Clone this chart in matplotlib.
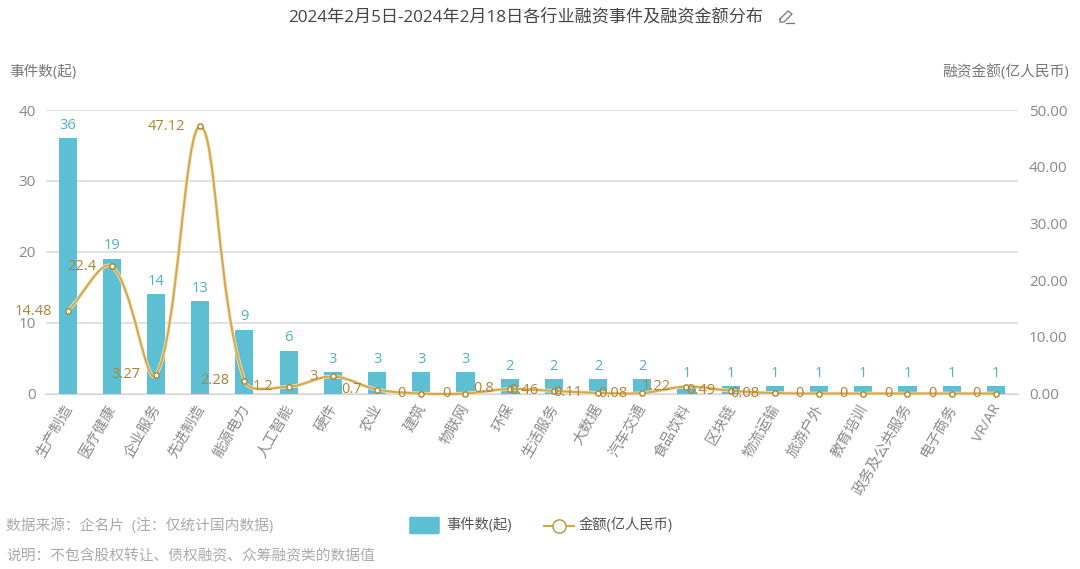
import matplotlib
matplotlib.use('Agg')
import matplotlib.pyplot as plt
from matplotlib.lines import Line2D
from matplotlib.patches import FancyBboxPatch, PathPatch
from matplotlib.path import Path
from matplotlib.transforms import ScaledTranslation

plt.rcParams['font.family'] = ['Open Sans', 'Noto Sans CJK SC', 'DejaVu Sans']

W, H = 1080, 569

industries = ['生产制造', '医疗健康', '企业服务', '先进制造', '能源电力', '人工智能', '硬件', '农业',
              '建筑', '物联网', '环保', '生活服务', '大数据', '汽车交通', '食品饮料', '区块链',
              '物流运输', '旅游户外', '教育培训', '政务及公共服务', '电子商务', 'VR/AR']
events = [36, 19, 14, 13, 9, 6, 3, 3, 3, 3, 2, 2, 2, 2, 1, 1, 1, 1, 1, 1, 1, 1]
amounts = [14.48, 22.4, 3.27, 47.12, 2.28, 1.2, 3, 0.7, 0, 0, 0.8, 0.46, 0.11, 0.08, 1.22,
           0.49, 0.08, 0, 0, 0, 0, 0]
left_ticks = [0, 10, 20, 30, 40]
right_ticks = [0, 10, 20, 30, 40, 50]

BAR = '#5cbfd3'
LINE = '#d6a84e'
LABEL_GOLD = '#ad8433'
LABEL_BLUE = '#4fb0c6'
GREY = '#8a8a8a'


def fx(px):
    return px / W


def fy(py):
    return 1 - py / H


# echarts style smooth line, bezier control points from the neighbours
def smooth_path(xs, ys, sx, sy, smooth=0.36):
    n = len(xs)
    verts = [(xs[0], ys[0])]
    codes = [Path.MOVETO]
    for i in range(n - 1):
        p0 = (xs[max(i - 1, 0)], ys[max(i - 1, 0)])
        p1 = (xs[i], ys[i])
        p2 = (xs[i + 1], ys[i + 1])
        p3 = (xs[min(i + 2, n - 1)], ys[min(i + 2, n - 1)])

        def seg(a, b):
            return (((a[0] - b[0]) * sx) ** 2 + ((a[1] - b[1]) * sy) ** 2) ** 0.5

        r1 = seg(p1, p2) / max(seg(p0, p1) + seg(p1, p2), 1e-6)
        r2 = seg(p1, p2) / max(seg(p1, p2) + seg(p2, p3), 1e-6)
        c1 = (p1[0] + (p2[0] - p0[0]) * smooth * r1, p1[1] + (p2[1] - p0[1]) * smooth * r1)
        c2 = (p2[0] - (p3[0] - p1[0]) * smooth * r2, p2[1] - (p3[1] - p1[1]) * smooth * r2)
        verts += [c1, c2, p2]
        codes += [Path.CURVE4] * 3
    return Path(verts, codes)


fig = plt.figure(figsize=(W / 100, H / 100), dpi=100, facecolor='white')
ax = fig.add_axes([fx(45.5), fy(393.5), fx(1018 - 45.5), fy(110) - fy(393.5)])
ax2 = ax.twinx()

x = list(range(len(industries)))
ax.set_xlim(-0.5, len(industries) - 0.5)
ax.set_ylim(0, 40)
ax2.set_ylim(0, 50)

ax.set_yticks(left_ticks)
ax.grid(axis='y', color='#dddddd', lw=1.2)
ax.set_axisbelow(True)
ax.bar(x, events, width=0.41, color=BAR, zorder=2)
for xi, v in zip(x, events):
    ax.annotate(str(v), (xi, v), xytext=(0, 4), textcoords='offset points', ha='center',
                va='bottom', fontsize=10.5, color=LABEL_BLUE)

ax.set_xticks(x)
ax.set_xticklabels(industries, rotation=60, ha='right', rotation_mode='anchor',
                   fontsize=10.5, color=GREY)
ax.tick_params(axis='x', length=0, pad=6)
ax.tick_params(axis='y', length=0, pad=7, labelsize=11, labelcolor=GREY)
# tick_params resets the label transform, so the nudge has to come after it
shift = ScaledTranslation(-5 / 100, 0, fig.dpi_scale_trans)
for lab in ax.get_xticklabels():
    lab.set_transform(lab.get_transform() + shift)
ax2.set_yticks(right_ticks)
ax2.set_yticklabels(['%.2f' % t for t in right_ticks])
ax2.tick_params(axis='y', length=0, pad=8, labelsize=11, labelcolor=GREY)

for a in (ax, ax2):
    for s in a.spines.values():
        s.set_visible(False)
ax.spines['bottom'].set_visible(True)
ax.spines['bottom'].set_color('#d5d5d5')

sx = (1018 - 45.5) / len(industries)
sy = (393.5 - 110) / 50
curve = smooth_path(x, amounts, sx, sy)
ax2.add_patch(PathPatch(curve, fill=False, ec='#f5e6c2', lw=2.6, zorder=3, clip_on=False))
ax2.add_patch(PathPatch(curve, fill=False, ec=LINE, lw=1.5, zorder=4, clip_on=False))
ax2.plot(x, amounts, ls='none', marker='o', ms=3.8, mfc='#fffdf2', mec='#a8862e', mew=1.0,
         zorder=5, clip_on=False)
for xi, v in zip(x, amounts):
    ax2.annotate(str(v), (xi, v), xytext=(-11, 0), textcoords='offset points', ha='right',
                 va='center', fontsize=10.5, color=LABEL_GOLD, zorder=6)

# header
fig.text(fx(526), fy(17), '2024年2月5日-2024年2月18日各行业融资事件及融资金额分布', ha='center',
         va='center', fontsize=12.3, color='#444444')
# edit icon next to the title
fig.add_artist(Line2D([fx(v) for v in (780, 788, 792, 784, 780, 780)],
                      [fy(v) for v in (19, 11, 14, 22, 22, 19)],
                      transform=fig.transFigure, color='#777777', lw=0.9))
fig.add_artist(Line2D([fx(786), fx(794)], [fy(23), fy(23)], transform=fig.transFigure,
                      color='#777777', lw=0.9))
fig.text(fx(9), fy(72), '事件数(起)', ha='left', va='center', fontsize=10.5, color='#777777')
fig.text(fx(1069), fy(72), '融资金额(亿人民币)', ha='right', va='center', fontsize=10.6, color='#777777')

# footer
fig.text(fx(6), fy(526), '数据来源\uff1a企名片  (注\uff1a仅统计国内数据)', ha='left', va='center',
         fontsize=10.6, color='#aaaaaa')
fig.text(fx(6), fy(557), '说明\uff1a不包含股权转让、债权融资、众筹融资类的数据值', ha='left',
         va='center', fontsize=10.6, color='#aaaaaa')

# legend
fig.add_artist(FancyBboxPatch((fx(411), fy(533)), fx(27), fy(518) - fy(533), transform=fig.transFigure,
                              boxstyle='round,pad=0.001', fc=BAR, ec=BAR, lw=1))
fig.text(fx(446), fy(525), '事件数(起)', ha='left', va='center', fontsize=10.3, color='#555555')
fig.add_artist(Line2D([fx(544), fx(574)], [fy(526), fy(526)], transform=fig.transFigure, color=LINE, lw=1.5))
fig.add_artist(Line2D([fx(559)], [fy(526)], transform=fig.transFigure, marker='o', ms=9.5, mfc='white',
                      mec='#b59a55', mew=1.1, ls='none'))
fig.text(fx(579), fy(525), '金额(亿人民币)', ha='left', va='center', fontsize=10.3, color='#555555')

fig.savefig('out.png', dpi=100)
